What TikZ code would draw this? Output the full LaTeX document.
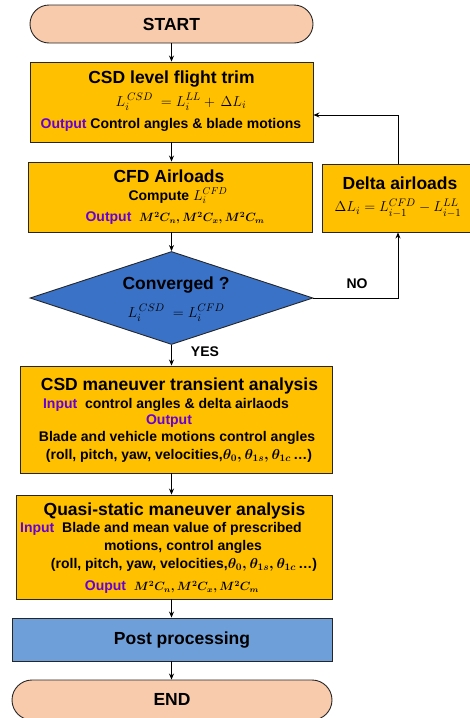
\documentclass[tikz,border=0pt]{standalone}
\usepackage{amsmath}
\usepackage{fontspec}
\setmainfont{Liberation Sans}
\usetikzlibrary{arrows.meta,shapes.geometric,shapes.misc}
\definecolor{boxor}{RGB}{255,192,0}
\definecolor{termc}{RGB}{248,203,173}
\definecolor{diamc}{RGB}{58,114,200}
\definecolor{postc}{RGB}{110,159,216}
\definecolor{purp}{RGB}{102,0,214}
\newcommand{\outw}[1]{\textcolor{purp}{#1}}
\newcommand{\mcoef}{{\fontsize{11.5}{13}\selectfont$\boldsymbol{M^2C_n, M^2C_x, M^2C_m}$}}
\tikzset{
  box/.style={draw=black!85, line width=0.9pt, fill=boxor, rectangle, inner sep=0pt},
  term/.style={draw=black!85, line width=0.9pt, fill=termc, rounded rectangle, inner sep=0pt},
  txt/.style={inner sep=0pt, font=\bfseries\fontsize{14}{16}\selectfont},
  ttl/.style={inner sep=0pt, font=\bfseries\fontsize{17.5}{20}\selectfont},
  eq/.style={inner sep=0pt, font=\fontsize{15.5}{18}\selectfont},
  arr/.style={line width=0.9pt, -{Stealth[length=6pt,width=5pt]}},
}
\begin{document}
\begin{tikzpicture}[x=1pt,y=-1pt]
\useasboundingbox (0,0) rectangle (470,718);
% boxes
\node[term, minimum width=283pt, minimum height=38pt] (start) at (171.5,24) {};
\node[ttl] (tstart) at (171.5,24) {START};
\node[box, minimum width=283pt, minimum height=80pt] (trim) at (171.5,102) {};
\node[ttl] (t1) at (171.5,79) {CSD level flight trim};
\node[eq] (t2) at (181,102) {$L_i^{\,CSD}\;=L_i^{LL}+\,\Delta L_i$};
\node[txt] (t3) at (171,125) {\outw{Output} Control angles \& blade motions};

\node[box, minimum width=284pt, minimum height=70pt] (cfd) at (170,197) {};
\node[ttl] (c1) at (169,176) {CFD Airloads};
\node[txt] (c2) at (178,196) {Compute $L_i^{CFD}$};
\node[txt] (c3) at (175,218) {\outw{Output}\ \ \mcoef};

\node[box, minimum width=156pt, minimum height=68pt] (delta) at (400,198) {};
\node[ttl] (d1) at (400,183) {Delta airloads};
\node[eq] (d2) at (398,208) {$\Delta L_i=L_{i-1}^{CFD}-L_{i-1}^{LL}$};

\node[draw=black!85, line width=0.9pt, fill=diamc, diamond, aspect=3.04, minimum width=283pt, minimum height=93pt, inner sep=0pt] (conv) at (171.5,298) {};
\node[ttl] (v1) at (176,285) {Converged ?};
\node[eq] (v2) at (176,313) {$L_i^{\,CSD}\;=L_i^{CFD}$};
\node[txt] (no) at (357,284) {NO};
\node[txt] (yes) at (205,352) {YES};

\node[box, minimum width=312pt, minimum height=107pt] (man) at (176,419.5) {};
\node[ttl] (m1) at (179.5,386) {CSD maneuver transient analysis};
\node[txt] (m2) at (166,405) {\outw{Input}\ \ control angles \& delta airlaods};
\node[txt] (m3) at (169,421) {\outw{Output}};
\node[txt] (m4) at (177,438) {Blade and vehicle motions control angles};
\node[txt] (m5) at (179,456) {(roll, pitch, yaw, velocities,$\boldsymbol{\theta_0,\theta_{1s},\theta_{1c}}$\,\ldots)};

\node[box, minimum width=316pt, minimum height=104pt] (qs) at (174,547) {};
\node[ttl] (q1) at (174.5,511) {Quasi-static maneuver analysis};
\node[txt] (q2) at (161,529) {\outw{Input}\ \ Blade and mean value of prescribed};
\node[txt] (q3) at (183,547) {motions, control angles};
\node[txt] (q4) at (184,565) {(roll, pitch, yaw, velocities,$\boldsymbol{\theta_0,\theta_{1s},\theta_{1c}}$\,\ldots)};
\node[txt] (q5) at (172,587) {\outw{Ouput}\ \ \mcoef};

\node[draw=black!85, line width=0.9pt, fill=postc, rectangle, minimum width=320pt, minimum height=43pt, inner sep=0pt] (post) at (172,639.5) {};
\node[ttl] (p1) at (182,640) {Post processing};

\node[term, minimum width=320pt, minimum height=40pt] (endn) at (172,700) {};
\node[ttl] (e1) at (172,699) {END};

% connectors
\draw[arr] (start.south) -- (start.south |- trim.north);
\draw[arr] (trim.south) -- (trim.south |- cfd.north);
\draw[arr] (cfd.south -| conv.north) -- (conv.north);
\draw[arr] (conv.south) -- (conv.south |- man.north);
\draw[arr] (man.south -| conv.south) -- (conv.south |- qs.north);
\draw[arr] (qs.south -| conv.south) -- (conv.south |- post.north);
\draw[arr] (post.south -| conv.south) -- (conv.south |- endn.north);
\coordinate (fb) at (398,115);
\draw[arr] (conv.east) -| (fb |- delta.south);
\draw[arr] (fb |- delta.north) -- (fb) -- (fb -| trim.east);
\end{tikzpicture}
\end{document}
